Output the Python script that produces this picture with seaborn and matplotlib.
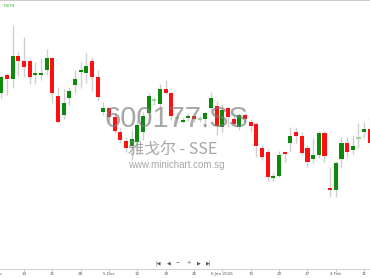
import numpy as np
import pandas as pd
import seaborn as sns
import matplotlib
matplotlib.use("Agg")
import matplotlib.pyplot as plt

# ---- data (66 daily candles, 10 Nov 2025 - 12 Feb 2026) ----
opens = [8.37, 8.55, 8.51, 8.74, 8.69, 8.69, 8.56, 8.56, 8.60, 8.72,
         8.34, 8.15, 8.32, 8.45, 8.58, 8.57, 8.69, 8.53, 8.18, 8.22,
         8.13, 7.98, 7.89, 7.84, 7.88, 7.98, 8.17, 8.30, 8.26, 8.41,
         8.37, 8.12, 8.09, 8.12, 8.14, 8.11, 8.11, 8.22, 8.24, 8.03,
         8.22, 8.11, 8.03, 8.15, 8.08, 8.06, 7.82, 7.78, 7.52, 7.54,
         7.78, 7.87, 7.98, 7.94, 7.82, 7.71, 7.75, 7.97, 7.42, 7.40,
         7.71, 7.87, 7.80, 7.92, 7.98, 8.01]
highs = [8.55, 8.57, 9.05, 8.78, 8.93, 8.72, 8.68, 8.72, 8.81, 8.73,
         8.43, 8.41, 8.43, 8.60, 8.68, 8.77, 8.73, 8.60, 8.28, 8.23,
         8.17, 8.02, 7.93, 8.00, 8.10, 8.18, 8.37, 8.33, 8.46, 8.50,
         8.38, 8.18, 8.13, 8.17, 8.16, 8.14, 8.18, 8.38, 8.29, 8.26,
         8.23, 8.14, 8.17, 8.17, 8.11, 8.08, 7.85, 7.81, 7.57, 7.79,
         7.79, 8.03, 8.02, 7.98, 7.85, 7.92, 7.99, 7.99, 7.63, 7.69,
         7.93, 7.93, 7.95, 8.07, 8.08, 8.13]
lows = [8.32, 8.35, 8.42, 8.54, 8.53, 8.46, 8.46, 8.50, 8.55, 8.27,
        8.07, 8.11, 8.25, 8.37, 8.42, 8.47, 8.39, 8.30, 8.15, 8.08,
        7.97, 7.87, 7.78, 7.70, 7.80, 7.90, 8.10, 8.25, 8.22, 8.36,
        8.10, 8.07, 8.07, 8.09, 8.08, 8.08, 8.03, 8.19, 7.95, 7.98,
        8.03, 8.04, 8.00, 8.08, 7.98, 7.73, 7.70, 7.49, 7.49, 7.53,
        7.68, 7.78, 7.87, 7.75, 7.63, 7.67, 7.72, 7.68, 7.33, 7.33,
        7.62, 7.73, 7.76, 7.82, 7.92, 7.83]
closes = [8.53, 8.51, 8.74, 8.69, 8.63, 8.53, 8.57, 8.57, 8.72, 8.37,
          8.08, 8.27, 8.39, 8.51, 8.60, 8.64, 8.53, 8.33, 8.22, 8.13,
          7.99, 7.90, 7.82, 7.91, 8.05, 8.14, 8.34, 8.30, 8.41, 8.37,
          8.14, 8.12, 8.10, 8.14, 8.11, 8.11, 8.17, 8.32, 8.04, 8.20,
          8.13, 8.06, 8.15, 8.11, 8.04, 7.84, 7.73, 7.53, 7.54, 7.75,
          7.76, 7.94, 7.94, 7.77, 7.68, 7.75, 7.97, 7.74, 7.40, 7.67,
          7.87, 7.78, 7.84, 7.92, 8.01, 7.87]
tick_idx = [-1, 4, 9, 14, 19, 24, 29, 34, 39, 44, 49, 54, 59, 64]
tick_labels = ["7 Nov", "14", "21", "28", "5 Dec", "12", "19", "26", "6 Jan 2026",
               "13", "20", "27", "4 Feb", "11"]
last_price = "7.870"
watermark_code = "600177.SS"
watermark_name = "雅戈尔 - SSE"
watermark_site = "www.minichart.com.sg"

# ---- styling ----
sns.set_theme(style="white")
plt.rcParams["font.family"] = ["DejaVu Sans"]

W, H = 370, 278
fig = plt.figure(figsize=(W / 100, H / 100), dpi=100)
axis_y = 269
ax = fig.add_axes([0, (H - axis_y) / H, 1, axis_y / H])

df = pd.DataFrame({"o": opens, "h": highs, "l": lows, "c": closes})
df["i"] = np.arange(len(df))
up = df["c"] > df["o"]
dn = df["c"] < df["o"]
flat = df["c"] == df["o"]

GREEN = "#0b8a0b"
RED = "#ff1010"
DOJI = "#9fd29f"
WICK = "#cfcfcf"

ax.vlines(df["i"], df["l"], df["h"], color=WICK, linewidth=1.0, zorder=1)
bw = 0.72
minh = 0.012
for mask, col in ((up, GREEN), (dn, RED), (flat, DOJI)):
    sub = df[mask]
    bottom = np.minimum(sub["o"], sub["c"])
    height = np.maximum(np.abs(sub["c"] - sub["o"]), minh)
    ax.bar(sub["i"], height, bottom=bottom - np.where(np.abs(sub["c"] - sub["o"]) < minh, minh / 2, 0),
           width=bw, color=col, linewidth=0, zorder=2)

ax.set_xlim(-0.23, 65.03)
ax.set_ylim(9.30 - axis_y / 100, 9.30)

for s in ("left", "right"):
    ax.spines[s].set_visible(False)
ax.spines["bottom"].set_color("#d4d4d4")
ax.spines["bottom"].set_linewidth(0.8)
ax.spines["top"].set_color("#cccccc")
ax.spines["top"].set_linewidth(0.8)
ax.spines["top"].set_linestyle((0, (1, 1)))
ax.set_yticks([])
ax.set_xticks([t for t in tick_idx if t >= 0])
ax.set_xticklabels([])
ax.tick_params(axis="x", length=2, width=0.5, color="#bbbbbb", bottom=True, pad=0)
for t, lab in zip(tick_idx, tick_labels):
    ax.text(t, -0.019, lab, transform=ax.get_xaxis_transform(), ha="center", va="center",
            fontsize=3.0, color="#555555", clip_on=False)

# watermark
fig.text(176 / W, 1 - 126.5 / H, watermark_code, ha="center", va="baseline",
         fontsize=21, family=["Liberation Sans", "DejaVu Sans"], color="#7a7a7a", alpha=0.65, zorder=5)
fig.text(128 / W, 1 - 153.5 / H, watermark_name, ha="left", va="baseline",
         fontsize=11.5, family=["Noto Sans CJK SC", "DejaVu Sans"], color="#8a8a8a", alpha=0.75, zorder=5)
fig.text(128 / W, 1 - 168.5 / H, watermark_site, ha="left", va="baseline",
         fontsize=7, family=["Liberation Sans", "DejaVu Sans"], color="#8a8a8a", alpha=0.75, zorder=5)

# last price label
fig.text(3 / W, 1 - 6 / H, last_price, ha="left", va="center", fontsize=3.2, color="#2e9e2e")

# navigation buttons
nav = [(158, "|◀"), (169, "◀"), (178, "−"), (189, "+"), (199, "▶"), (209, "▶|")]
for xp, s in nav:
    fig.text(xp / W, 1 - 263 / H, s, ha="center", va="center", fontsize=3.5, color="#555555")

fig.savefig("out.png", dpi=100, facecolor="white")
